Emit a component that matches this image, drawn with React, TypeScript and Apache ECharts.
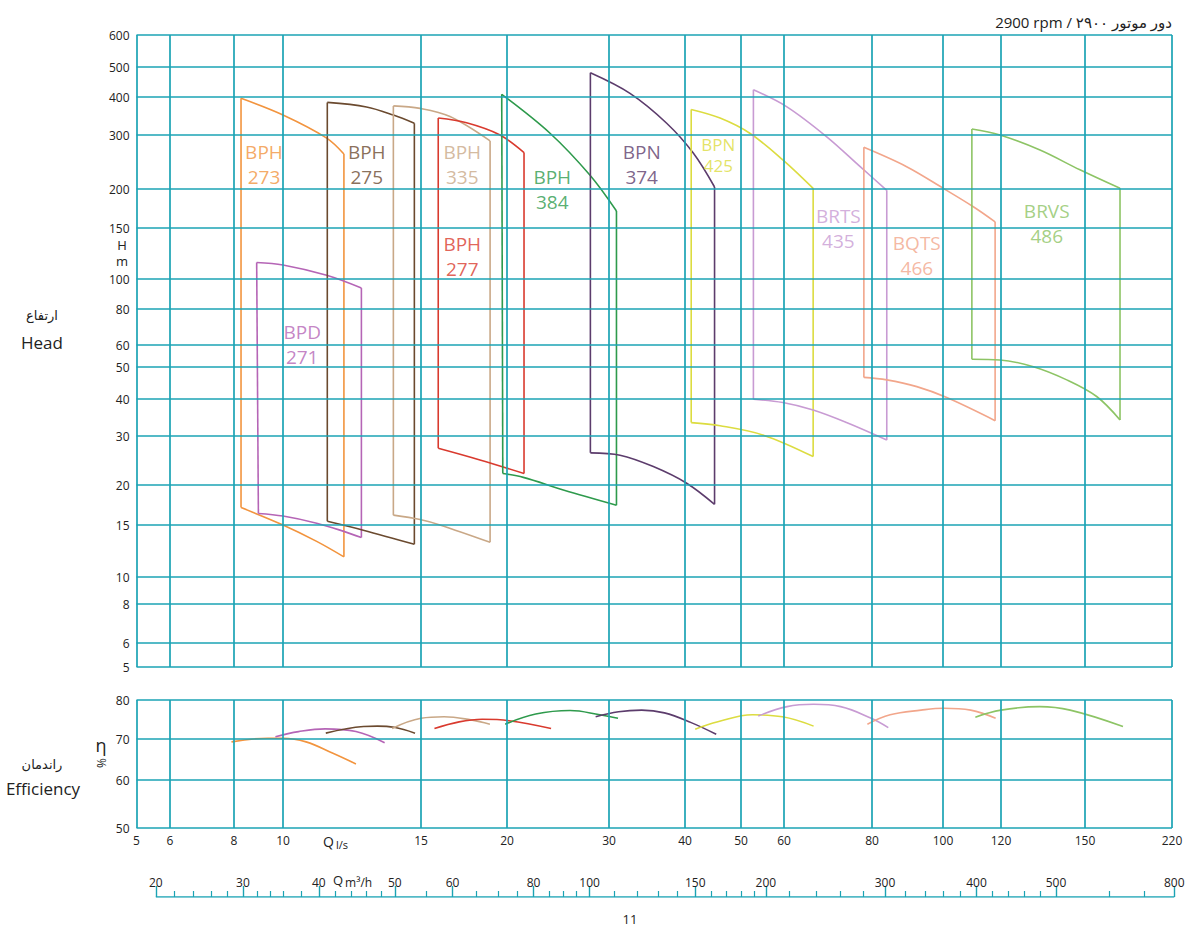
import React, { useEffect, useRef } from "react";
import * as echarts from "echarts";

// ---- printed (non-uniform) scales of the original chart ----
const qTicks = [5, 6, 8, 10, 15, 20, 30, 40, 50, 60, 80, 100, 120, 150, 220];
const qStops = [0, 33.5, 97.5, 146.5, 284.5, 370.5, 472.5, 548.5, 604.5, 647.5, 735.5, 806.5, 864.5, 948.5, 1035.5];
const hTicks = [5, 6, 8, 10, 15, 20, 30, 40, 50, 60, 80, 100, 150, 200, 300, 400, 500, 600];
const hStops = [0, 24, 63, 90, 142, 182, 231, 268, 300, 322, 358, 388, 439, 478, 532, 570, 600, 632];
const etaTicks = [50, 60, 70, 80];
const etaStops = [0, 48, 89, 128];
const m3hMajor = [20, 30, 40, 50, 60, 80, 100, 150, 200, 300, 400, 500, 800];
const m3hMinor = [22, 24, 26, 28, 32, 34, 36, 38, 42, 44, 46, 48, 55, 65, 70, 75, 85, 90, 95, 110, 120, 130, 140, 160, 170, 180, 190, 220, 240, 260, 280, 320, 340, 360, 380, 420, 440, 460, 480, 600, 700];

// ---- pump envelopes: [Q l/s, H m] ----
const bph273Top = [[8.26, 396], [10, 349], [11.37, 293], [11.96, 260]];
const bph273Bot = [[8.26, 17.0], [10, 15.0], [11.04, 13.2], [11.96, 11.7]];
const bpd271Top = [[8.87, 114], [10, 111.8], [11.37, 103], [12.59, 93.5]];
const bpd271Bot = [[8.94, 16.3], [10, 16.0], [11.04, 15.2], [11.93, 14.3], [12.59, 13.6]];
const bph275Top = [[11.39, 384], [12.78, 371], [13.83, 349], [14.71, 328]];
const bph275Bot = [[11.39, 15.4], [12.66, 14.4], [14.71, 12.9]];
const bph335Top = [[13.83, 374], [14.96, 367], [16.53, 345], [18.9, 287]];
const bph335Bot = [[13.83, 16.1], [14.96, 15.6], [15.98, 15.0], [18.9, 13.1]];
const bph277Top = [[15.89, 341], [17.47, 329], [19.54, 300], [21.4, 263]];
const bph277Bot = [[15.89, 27.1], [18.27, 24.6], [21.4, 22.0]];
const bph384Top = [[19.65, 408], [23.73, 304], [27.8, 222], [30.86, 170]];
const bph384Bot = [[19.72, 22.0], [21.34, 21.3], [25.02, 19.3], [30.86, 17.3]];
const bpn374Top = [[27.86, 479], [32.48, 411], [37.32, 328], [41.34, 262], [45, 203]];
const bpn374Bot = [[27.86, 26.1], [31.28, 25.6], [35.48, 23.3], [40.27, 20.3], [45, 17.4]];
const bpn425Top = [[41, 364], [46, 341], [51.9, 304], [59.7, 249], [66, 201]];
const bpn425Bot = [[41, 33.3], [46, 32.5], [55, 30.2], [66, 25.3]];
const brts435Top = [[52.7, 422], [60.5, 372], [69, 296], [76.9, 237], [83.8, 198]];
const brts435Bot = [[52.7, 39.9], [59.7, 38.9], [66, 36.7], [73.6, 33.3], [83.8, 29.0]];
const bqts466Top = [[77.9, 273.5], [89.2, 236.5], [100.1, 201], [110, 175.5], [117.8, 157]];
const bqts466Bot = [[77.9, 46.5], [83.8, 45.7], [92.1, 43.6], [101.2, 40.4], [117.8, 33.8]];
const brvs486Top = [[109.5, 314], [119.6, 300], [133.1, 268], [148, 231], [175, 201]];
const brvs486Bot = [[109.5, 53.3], [119.6, 53.0], [130.8, 50.1], [142.9, 45.7], [157.9, 40.7], [175, 34.0]];

// ---- efficiency curves: [Q l/s, eta %] ----
const bph273Eff = [[7.91, 69.3], [9.34, 70.2], [10, 70.2], [10.7, 69.3], [11.58, 66.5], [12.39, 63.9]];
const bpd271Eff = [[9.66, 70.6], [10.47, 71.9], [11.32, 72.6], [12.39, 71.9], [13.48, 69.1]];
const bph275Eff = [[11.34, 71.5], [12.67, 73.2], [13.2, 73.3], [13.86, 73.0], [14.74, 71.5]];
const bph335Eff = [[13.78, 72.7], [15, 75.3], [16.2, 75.7], [17.72, 74.9], [18.89, 73.8]];
const bph277Eff = [[15.69, 72.7], [17.04, 74.4], [18.41, 75.05], [20.16, 74.7], [23.83, 72.7]];
const bph384Eff = [[19.88, 73.8], [22.42, 76.4], [25.7, 77.3], [28.94, 76.2], [31.04, 75.3]];
const bpn374Eff = [[28.45, 75.7], [31.11, 77], [33.95, 77.4], [37, 76.7], [41, 74.2], [45.3, 71.2]];
const bpn425Eff = [[41.66, 72.5], [45.6, 74.4], [52.5, 76.2], [59.6, 75.7], [66.1, 73.3]];
const brts435Eff = [[53.8, 75.9], [60.6, 78.3], [66.1, 78.9], [72.2, 78.3], [79.8, 75.3], [84.2, 72.9]];
const bqts466Eff = [[78.8, 73.8], [84.7, 76.2], [93.3, 77.4], [100.3, 77.9], [109.1, 77.4], [118, 75.3]];
const brvs486Eff = [[110.7, 75.6], [120, 77.4], [133, 78.3], [144.2, 77.4], [177.3, 73.2]];

// ---- labels ----
const pumpNames = ["BPH", "BPD", "BPH", "BPH", "BPH", "BPH", "BPN", "BPN", "BRTS", "BQTS", "BRVS"];
const pumpModels = ["273", "271", "275", "335", "277", "384", "374", "425", "435", "466", "486"];
const labelAt = [[9.17, 241], [10.58, 60.3], [12.79, 241], [17.22, 241], [17.22, 120], [23.94, 200], [33.95, 241], [45.68, 258], [71.66, 150], [92.1, 121], [135.5, 154.6]];
const tops = [bph273Top, bpd271Top, bph275Top, bph335Top, bph277Top, bph384Top, bpn374Top, bpn425Top, brts435Top, bqts466Top, brvs486Top];
const bots = [bph273Bot, bpd271Bot, bph275Bot, bph335Bot, bph277Bot, bph384Bot, bpn374Bot, bpn425Bot, brts435Bot, bqts466Bot, brvs486Bot];
const effs = [bph273Eff, bpd271Eff, bph275Eff, bph335Eff, bph277Eff, bph384Eff, bpn374Eff, bpn425Eff, brts435Eff, bqts466Eff, brvs486Eff];
const pumpColors = ["#F2943E", "#B565B6", "#6B4A2F", "#C9A887", "#D93A2E", "#2E9A4C", "#5C3C6C", "#DCDC40", "#C89BD3", "#F2A68B", "#8DC465"];

const GRID = "#1BA3B4";
const FONT = '"Open Sans", "DejaVu Sans", sans-serif';

function logPiece(v: number, ticks: number[], stops: number[]) {
  let i = 0;
  while (i < ticks.length - 2 && v > ticks[i + 1]) i++;
  const a = Math.log(ticks[i]);
  const b = Math.log(ticks[i + 1]);
  return stops[i] + ((Math.log(v) - a) / (b - a)) * (stops[i + 1] - stops[i]);
}
function linPiece(v: number, ticks: number[], stops: number[]) {
  let i = 0;
  while (i < ticks.length - 2 && v > ticks[i + 1]) i++;
  return stops[i] + ((v - ticks[i]) / (ticks[i + 1] - ticks[i])) * (stops[i + 1] - stops[i]);
}
const qPos = (q: number) => logPiece(q, qTicks, qStops);
const hPos = (h: number) => logPiece(h, hTicks, hStops);
const ePos = (e: number) => linPiece(e, etaTicks, etaStops);
const mPos = (m: number) => qPos(m / 3.6);

function labelFor(v: number, ticks: number[], stops: number[]) {
  const i = stops.findIndex((s) => Math.abs(s - v) < 0.05);
  return i >= 0 ? String(ticks[i]) : "";
}

const Q_MAX = qStops[qStops.length - 1];
const H_MAX = hStops[hStops.length - 1];
const E_MAX = etaStops[etaStops.length - 1];
const RULER_MAX = Q_MAX + 8;

function buildOption() {
  const series: any[] = [];
  const lineLabelFont = { fontSize: 12, color: "#222", fontFamily: FONT };

  series.push({
    type: "line", xAxisIndex: 0, yAxisIndex: 0, data: [[0, 0]], symbol: "none", silent: true, z: 1,
    lineStyle: { width: 0 },
    markLine: {
      silent: true, symbol: ["none", "none"], label: { show: false }, animation: false,
      lineStyle: { color: GRID, width: 1.7, type: "solid" },
      emphasis: { disabled: true },
      data: [...qStops.map((v) => ({ xAxis: v })), ...hStops.map((v) => ({ yAxis: v }))],
    },
  });
  series.push({
    type: "line", xAxisIndex: 1, yAxisIndex: 1, data: [[0, 0]], symbol: "none", silent: true, z: 1,
    lineStyle: { width: 0 },
    markLine: {
      silent: true, symbol: ["none", "none"], label: { show: false }, animation: false,
      lineStyle: { color: GRID, width: 1.7, type: "solid" },
      emphasis: { disabled: true },
      data: [...qStops.map((v) => ({ xAxis: v })), ...etaStops.map((v) => ({ yAxis: v }))],
    },
  });
  // m3/h ruler line
  series.push({
    type: "line", xAxisIndex: 2, yAxisIndex: 2, symbol: "none", silent: true, z: 2,
    lineStyle: { color: GRID, width: 1.6 },
    data: [[mPos(m3hMajor[0]), 0], [mPos(m3hMajor[m3hMajor.length - 1]), 0]],
  });

  for (let i = 0; i < tops.length; i++) {
    const c = pumpColors[i];
    const top = tops[i].map(([q, h]) => [qPos(q), hPos(h)]);
    const bot = bots[i].map(([q, h]) => [qPos(q), hPos(h)]);
    const common = {
      type: "line", xAxisIndex: 0, yAxisIndex: 0, symbol: "none", silent: true, z: 3,
      lineStyle: { color: c, width: 1.6 },
    };
    series.push({ ...common, smooth: 0.35, data: top });
    series.push({ ...common, smooth: 0.35, data: bot });
    series.push({ ...common, data: [top[0], bot[0]] });
    series.push({ ...common, data: [top[top.length - 1], bot[bot.length - 1]] });
    series.push({
      type: "line", xAxisIndex: 1, yAxisIndex: 1, symbol: "none", silent: true, z: 3, smooth: 0.4,
      lineStyle: { color: c, width: 1.6 },
      data: effs[i].map(([q, e]) => [qPos(q), ePos(e)]),
    });
    const tight = pumpModels[i] === "425";
    series.push({
      type: "scatter", xAxisIndex: 0, yAxisIndex: 0, silent: true, z: 4,
      symbolSize: 0.1, itemStyle: { color: "transparent" },
      data: [[qPos(labelAt[i][0]), hPos(labelAt[i][1])]],
      label: {
        show: true, position: "inside", formatter: pumpNames[i] + "\n" + pumpModels[i],
        color: c, fontSize: tight ? 17 : 19, lineHeight: tight ? 21 : 25, fontFamily: FONT,
      },
    });
  }

  const hiddenAxis = {
    type: "value", axisLine: { show: false }, axisTick: { show: false }, splitLine: { show: false },
  };
  const center = { align: "center", verticalAlign: "middle", textAlign: "center", textVerticalAlign: "middle" };

  return {
    animation: false,
    backgroundColor: "#ffffff",
    grid: [
      { left: 136.5, top: 35, width: Q_MAX, height: H_MAX },
      { left: 136.5, top: 700, width: Q_MAX, height: E_MAX },
      { left: 136.5, top: 880, width: RULER_MAX, height: 17 },
    ],
    xAxis: [
      { ...hiddenAxis, gridIndex: 0, min: 0, max: Q_MAX, axisLabel: { show: false } },
      {
        ...hiddenAxis, gridIndex: 1, min: 0, max: Q_MAX, position: "bottom",
        axisLabel: { show: true, customValues: qStops, formatter: (v: number) => labelFor(v, qTicks, qStops), margin: 6, ...lineLabelFont },
      },
      {
        type: "value", gridIndex: 2, min: 0, max: RULER_MAX, position: "bottom", offset: 0,
        axisLine: { show: false }, splitLine: { show: false },
        axisTick: { show: true, inside: true, length: 11, customValues: m3hMajor.map(mPos), lineStyle: { color: GRID, width: 1.4 } },
        axisLabel: {
          show: true, inside: true, margin: 9, customValues: m3hMajor.map(mPos), showMaxLabel: true, showMinLabel: true,
          formatter: (v: number) => {
            const i = m3hMajor.findIndex((m) => Math.abs(mPos(m) - v) < 0.05);
            return i >= 0 ? String(m3hMajor[i]) : "";
          },
          ...lineLabelFont,
        },
      },
      {
        type: "value", gridIndex: 2, min: 0, max: RULER_MAX, position: "bottom", offset: 0,
        axisLine: { show: false }, splitLine: { show: false }, axisLabel: { show: false },
        axisTick: { show: true, inside: true, length: 6, customValues: m3hMinor.map(mPos), lineStyle: { color: GRID, width: 1.2 } },
      },
    ],
    yAxis: [
      {
        ...hiddenAxis, gridIndex: 0, min: 0, max: H_MAX,
        axisLabel: { show: true, customValues: hStops, formatter: (v: number) => labelFor(v, hTicks, hStops), margin: 7, ...lineLabelFont },
      },
      {
        ...hiddenAxis, gridIndex: 1, min: 0, max: E_MAX,
        axisLabel: { show: true, customValues: etaStops, formatter: (v: number) => labelFor(v, etaTicks, etaStops), margin: 7, ...lineLabelFont },
      },
      { ...hiddenAxis, gridIndex: 2, min: 0, max: 1, show: false },
    ],
    graphic: [
      {
        type: "text", x: 1172, y: 22,
        style: { text: "2900 rpm / دور موتور ۲۹۰۰", font: `15px ${FONT}`, fill: "#222", align: "right", verticalAlign: "middle", textAlign: "right", textVerticalAlign: "middle" },
      },
      { type: "text", x: 122, y: 253, style: { text: "H\nm", font: `13px ${FONT}`, lineHeight: 16, fill: "#222", ...center } },
      { type: "text", x: 42, y: 315, style: { text: "ارتفاع", font: `13px "DejaVu Sans", sans-serif`, fill: "#222", ...center } },
      { type: "text", x: 42, y: 342, style: { text: "Head", font: `17px ${FONT}`, fill: "#222", ...center } },
      { type: "text", x: 42, y: 764, style: { text: "راندمان", font: `13px "DejaVu Sans", sans-serif`, fill: "#222", ...center } },
      { type: "text", x: 43, y: 788, style: { text: "Efficiency", font: `17px ${FONT}`, fill: "#222", ...center } },
      { type: "text", x: 101, y: 745, style: { text: "η", font: `18px ${FONT}`, fill: "#222", ...center } },
      { type: "text", x: 101, y: 763, rotation: Math.PI / 2, style: { text: "%", font: `12px ${FONT}`, fill: "#222", ...center } },
      {
        type: "text", x: 323, y: 841,
        style: {
          text: "{q|Q}{s|l/s}", fill: "#222", verticalAlign: "middle", textVerticalAlign: "middle",
          rich: { q: { font: `14px ${FONT}`, fill: "#222" }, s: { font: `11px ${FONT}`, fill: "#222", padding: [7, 0, 0, 2] } },
        },
      },
      {
        type: "text", x: 333, y: 880,
        style: {
          text: "{q|Q}{s|m³/h}", fill: "#222", verticalAlign: "middle", textVerticalAlign: "middle",
          rich: { q: { font: `13px ${FONT}`, fill: "#222" }, s: { font: `12px ${FONT}`, fill: "#222", padding: [5, 0, 0, 2] } },
        },
      },
      { type: "text", x: 630, y: 919, style: { text: "11", font: `13px ${FONT}`, fill: "#222", ...center } },
    ],
    series,
  };
}

export default function App() {
  const ref = useRef<HTMLDivElement>(null);
  useEffect(() => {
    if (!ref.current) return;
    const chart = echarts.init(ref.current, null, { renderer: "svg" });
    chart.setOption(buildOption() as any);
    return () => chart.dispose();
  }, []);
  return (
    <div
      ref={ref}
      style={{ position: "absolute", left: 0, top: 0, width: 1188, height: 928, background: "#fff" }}
    />
  );
}
